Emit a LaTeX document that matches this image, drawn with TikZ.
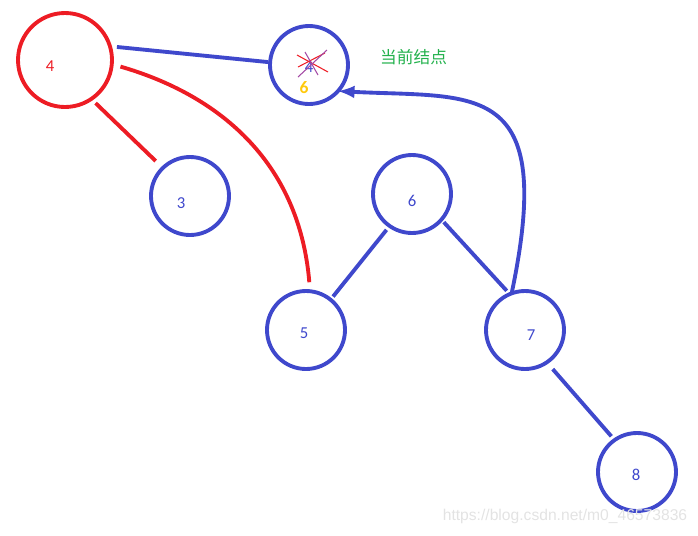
\documentclass[tikz,border=0pt]{standalone}
\usepackage{fontspec}
\setmainfont{Carlito}
\newfontfamily\cjk{Noto Sans CJK SC}
\newfontfamily\wmfont{Liberation Sans}
\definecolor{pblue}{RGB}{63,72,204}
\definecolor{pred}{RGB}{237,28,36}
\definecolor{pgreen}{RGB}{34,177,76}
\definecolor{pyellow}{RGB}{255,201,14}
\definecolor{ppurple}{RGB}{163,73,164}
\begin{document}
\begin{tikzpicture}[
		vertex/.style={circle, draw=pblue, line width=2.2pt, minimum size=1.56cm, inner sep=0pt, outer sep=0pt},
		rvertex/.style={vertex, draw=pred, minimum size=1.88cm},
		num/.style={font=\fontsize{9.5}{11}\selectfont, text=pblue},
		edge/.style={pblue, line width=2.2pt},
		redge/.style={edge, pred},
		mark line/.style={line width=0.6pt}]
		\useasboundingbox (0,0) rectangle (13.96,-10.7);
		% tree nodes
		\node[rvertex, label={[num, text=pred, xshift=-0.3cm, yshift=-0.12cm]center:4}] (r4) at (1.30,-1.20) {};
		\node[vertex] (cur) at (6.18,-1.30) {};
		\node[vertex, label={[num, xshift=-0.18cm, yshift=-0.14cm]center:3}] (n3) at (3.80,-3.92) {};
		\node[vertex, label={[num, yshift=-0.14cm]center:6}] (n6) at (8.24,-3.88) {};
		\node[vertex, label={[num, xshift=-0.04cm, yshift=-0.06cm]center:5}] (n5) at (6.12,-6.60) {};
		\node[vertex, label={[num, xshift=0.12cm, yshift=-0.1cm]center:7}] (n7) at (10.50,-6.60) {};
		\node[vertex, label={[num, xshift=-0.02cm, yshift=-0.06cm]center:8}] (n8) at (12.74,-9.44) {};
		% crossed out value
		\node[num] (old) at ([yshift=-0.04cm]cur.center) {4};
		\draw[pred, mark line] ([shift={(-0.24,0.2)}]cur.center) -- ([shift={(0.38,-0.14)}]cur.center);
		\draw[pred, mark line] ([shift={(-0.22,-0.04)}]cur.center) -- ([shift={(0.32,0.24)}]cur.center);
		\draw[ppurple, mark line] ([shift={(-0.08,0.26)}]cur.center) -- ([shift={(0.18,-0.2)}]cur.center);
		\draw[ppurple, mark line] ([shift={(0.36,0.3)}]cur.center) -- ([shift={(-0.22,-0.24)}]cur.center);
		\node[font=\bfseries\fontsize{10}{12}\selectfont, text=pyellow] (new) at ([shift={(-0.1,-0.46)}]cur.center) {6};
		\node[font=\cjk\fontsize{9.5}{11}\selectfont, text=pgreen, anchor=west] (tag) at (7.48,-1.14) {当前结点};
		% links
		\draw[redge, shorten <=0.12cm, shorten >=0.2cm] (r4.-56) -- (n3.134);
		\draw[edge, shorten <=0.14cm, shorten >=0.04cm] (r4.17) -- (cur.176);
		\draw[redge, shorten <=0.18cm, shorten >=0.18cm] (r4.-5) .. controls +(2.08,-0.6) and +(-0.22,2.64) .. (n5.84);
		\draw[edge, shorten <=0.1cm, shorten >=0.08cm] (n6.235) -- (n5.51);
		\draw[edge, shorten <=0.07cm, shorten >=0.09cm] (n6.-41) -- (n7.113);
		\draw[edge, shorten <=0.18cm, shorten >=0.1cm] (n7.-56) -- (n8.125);
		\draw[edge, -latex] (n7.110) .. controls +(0.9,4.3) and +(2.76,-0.14) .. (cur.-42);
		% watermark
		\node[font=\wmfont\fontsize{8.9}{10}\selectfont, text=gray!22] (wm) at (11.3,-10.32) {https://blog.csdn.net/m0\_46573836};
	\end{tikzpicture}
\end{document}
